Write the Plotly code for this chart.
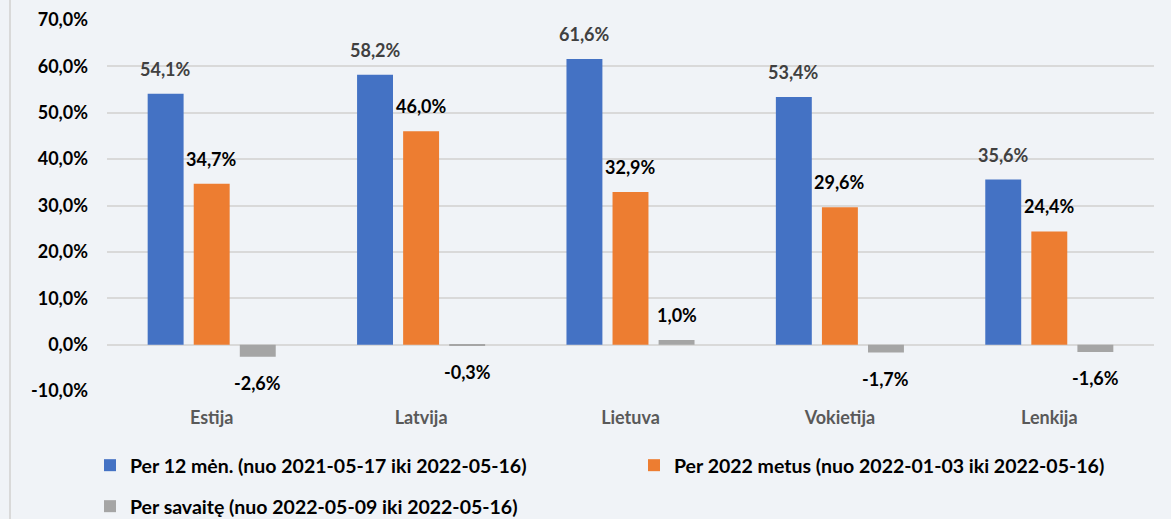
import plotly.graph_objects as go

categories = ["Estija", "Latvija", "Lietuva", "Vokietija", "Lenkija"]
series_names = [
    "Per 12 mėn. (nuo 2021-05-17 iki 2022-05-16)",
    "Per 2022 metus (nuo 2022-01-03 iki 2022-05-16)",
    "Per savaitę (nuo 2022-05-09 iki 2022-05-16)",
]
per_12_men = [54.1, 58.2, 61.6, 53.4, 35.6]
per_2022 = [34.7, 46.0, 32.9, 29.6, 24.4]
per_savaite = [-2.6, -0.3, 1.0, -1.7, -1.6]
tick_vals = [-10, 0, 10, 20, 30, 40, 50, 60, 70]
tick_labels = ["-10,0%", "0,0%", "10,0%", "20,0%", "30,0%", "40,0%", "50,0%", "60,0%", "70,0%"]

series = [per_12_men, per_2022, per_savaite]
colors = ["#4472C4", "#ED7D31", "#A5A5A5"]
label_colors = ["#404040", "#000000", "#000000"]
legends = ["legend", "legend2", "legend3"]

FONT = "Lato"
fig = go.Figure()
for i, (name, vals) in enumerate(zip(series_names, series)):
    fig.add_trace(go.Bar(
        x=categories, y=vals, name=name, marker_color=colors[i],
        marker_line_width=0, legend=legends[i],
    ))

W, H = 1171, 519
ml, mr, mt, mb = 107, 17, 20, 128
pw, ph = W - ml - mr, H - mt - mb
cat_w = pw / len(categories)
bargap = 0.34
slot = (1 - bargap) * cat_w / 3

for i, vals in enumerate(series):
    for c, v in zip(categories, vals):
        fig.add_annotation(
            x=c, y=v, xref="x", yref="y", showarrow=False,
            text=f"{v:.1f}%".replace(".", ","),
            xshift=(i - 1) * slot,
            yshift=25 if v >= 0 else -26,
            font=dict(family=FONT, size=18, color=label_colors[i], weight="bold"),
        )

# left border line of chart area
fig.add_shape(type="line", xref="paper", yref="paper",
              x0=-(ml - 10) / pw, x1=-(ml - 10) / pw,
              y0=-mb / ph, y1=1 + mt / ph,
              line=dict(color="#D9D9D9", width=2))

leg_font = dict(family=FONT, size=19.5, color="#000000", weight="bold")
fig.update_layout(
    width=W, height=H,
    margin=dict(l=ml, r=mr, t=mt, b=mb, autoexpand=False),
    paper_bgcolor="#F0F3F7", plot_bgcolor="#F0F3F7",
    separators=",.",
    barmode="group", bargap=bargap, bargroupgap=0.22,
    font=dict(family=FONT, size=18, color="#000000", weight="bold"),
    xaxis=dict(showgrid=False, showline=False, ticks="", automargin=False,
               tickfont=dict(family=FONT, size=18, color="#595959", weight="bold"),
               ticklabelstandoff=14),
    yaxis=dict(range=[-10, 70], tickvals=tick_vals, ticktext=tick_labels,
               showgrid=True, gridcolor="#D9D9D9", gridwidth=2, automargin=False,
               zeroline=True, zerolinecolor="#D9D9D9", zerolinewidth=2,
               showline=False, ticks="", ticklabelstandoff=18,
               tickfont=dict(family=FONT, size=18, color="#000000", weight="bold")),
    legend=dict(orientation="h", x=-17 / pw, y=-55 / ph, xanchor="left", yanchor="top",
                itemwidth=30, bgcolor="rgba(0,0,0,0)", font=leg_font),
    legend2=dict(orientation="h", x=(651 - ml - 17) / pw, y=-55 / ph, xanchor="left",
                 yanchor="top", itemwidth=30, bgcolor="rgba(0,0,0,0)", font=leg_font),
    legend3=dict(orientation="h", x=-17 / pw, y=-96 / ph, xanchor="left", yanchor="top",
                 itemwidth=30, bgcolor="rgba(0,0,0,0)", font=leg_font),
    showlegend=True,
)

fig.write_html("out.html", config={"displayModeBar": False},
               post_script="document.body.style.margin='0';document.body.style.overflow='hidden';")
